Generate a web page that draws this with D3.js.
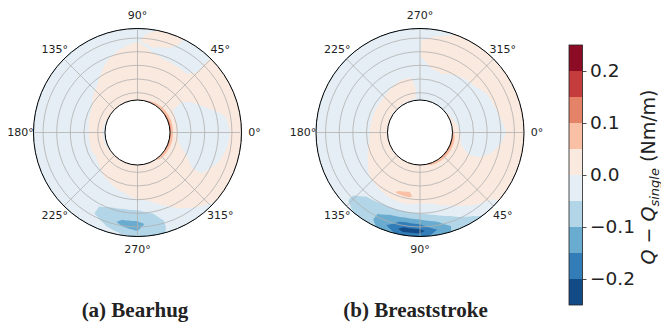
<!DOCTYPE html>
<html>
<head>
<meta charset="utf-8">
<script src="https://cdn.jsdelivr.net/npm/d3@7"></script>
<style>
  body { margin: 0; background: #fff; }
  svg { display: block; }
</style>
</head>
<body>
<svg id="chart" width="661" height="325"></svg>
<script>
// contour levels and the RdBu_r colours of the 10 bands
const levels = [-0.25, -0.2, -0.15, -0.1, -0.05, 0, 0.05, 0.1, 0.15, 0.2, 0.25];
const bandColors = ["#134b86", "#327cb7", "#6aacd0", "#b2d5e7", "#e4eef4",
                    "#fae9df", "#f9c0a5", "#e58368", "#c43c3c", "#8d0c25"];
const colorbarTicks = [-0.2, -0.1, 0, 0.1, 0.2];

const angleTicks = [0, 45, 90, 135, 180, 225, 270, 315];
const ringTicks = [1, 2, 3, 4, 5];
const radialExtent = [0.46, 5.7];

// sample positions of the field
const angleSamples = [0, 10, 20, 30, 40, 50, 60, 70, 80, 90, 100, 110, 120, 130, 140, 150, 160, 170,
                      180, 190, 200, 210, 220, 230, 240, 250, 260, 270, 280, 290, 300, 310, 320, 330, 340, 350];
const radialSamples = [0.46, 0.7, 1.2, 2.0, 2.8, 3.6, 4.2, 4.8, 5.3, 5.7];

// Q - Q_single, one row per angle sample (inner -> outer radius)
const bearhug = [
  [0.12, 0.045, -0.02, -0.03, -0.03, -0.03, -0.02, -0.002, 0.025, 0.025],
  [0.13, 0.045, -0.02, -0.03, -0.03, -0.03, -0.015, 0.005, 0.025, 0.025],
  [0.13, 0.045, -0.02, -0.03, -0.02, 0.005, 0.025, 0.025, 0.025, 0.025],
  [0.12, 0.045, -0.01, -0.02, 0.01, 0.025, 0.025, 0.025, 0.025, 0.025],
  [0.11, 0.04, 0.025, 0.025, 0.025, 0.025, 0.025, 0.025, 0.025, 0.025],
  [0.10, 0.035, 0.025, 0.025, 0.025, 0.003, -0.02, -0.02, -0.02, -0.02],
  [0.08, 0.03, 0.025, 0.025, 0.025, 0.005, -0.02, -0.02, -0.02, -0.015],
  [0.06, 0.03, 0.025, 0.025, 0.025, 0.008, -0.02, 0.005, 0.025, 0.025],
  [0.045, 0.03, 0.025, 0.025, 0.025, 0.015, -0.005, 0.01, 0.025, -0.005],
  [0.03, 0.03, 0.025, 0.025, 0.025, 0.025, 0.02, -0.002, -0.025, -0.025],
  [0.03, 0.03, 0.025, 0.025, 0.025, 0.02, 0.008, -0.02, -0.025, -0.025],
  [0.03, 0.03, 0.025, 0.025, 0.025, 0.012, -0.01, -0.025, -0.025, -0.025],
  [0.03, 0.03, 0.025, 0.025, 0.015, -0.01, -0.025, -0.025, -0.025, -0.025],
  [0.03, 0.03, 0.025, 0.02, -0.005, -0.025, -0.025, -0.025, -0.025, -0.025],
  [0.025, 0.025, 0.025, 0.012, -0.02, -0.025, -0.025, -0.025, -0.025, -0.025],
  [0.02, 0.025, 0.02, -0.002, -0.025, -0.025, -0.025, -0.025, -0.025, -0.025],
  [-0.01, 0.015, 0.025, -0.01, -0.025, -0.025, -0.025, -0.025, -0.025, -0.025],
  [-0.015, 0.01, 0.025, -0.015, -0.025, -0.025, -0.025, -0.025, -0.025, -0.025],
  [-0.02, 0.01, 0.025, -0.02, -0.025, -0.025, -0.025, -0.025, -0.025, -0.025],
  [-0.02, 0.01, 0.025, -0.02, -0.025, -0.025, -0.025, -0.025, -0.025, -0.025],
  [-0.015, 0.01, 0.025, -0.015, -0.025, -0.025, -0.025, -0.025, -0.025, -0.025],
  [-0.01, 0.015, 0.02, -0.02, -0.025, -0.025, -0.025, -0.025, -0.025, -0.025],
  [0.02, 0.025, 0.025, -0.01, -0.025, -0.025, -0.025, -0.03, -0.03, -0.03],
  [0.02, 0.025, 0.025, 0.002, -0.025, -0.025, -0.03, -0.035, -0.035, -0.03],
  [0.02, 0.025, 0.025, 0.01, -0.025, -0.03, -0.045, -0.045, -0.04, -0.035],
  [0.02, 0.025, 0.025, 0.02, -0.015, -0.035, -0.065, -0.07, -0.045, -0.035],
  [0.02, 0.025, 0.025, 0.025, -0.005, -0.04, -0.075, -0.115, -0.08, -0.035],
  [0.02, 0.025, 0.025, 0.025, 0.01, -0.04, -0.075, -0.115, -0.1, -0.07],
  [0.02, 0.025, 0.025, 0.025, 0.025, -0.03, -0.055, -0.08, -0.08, -0.07],
  [0.03, 0.025, 0.025, 0.025, 0.025, 0.01, -0.025, -0.035, -0.035, -0.035],
  [0.04, 0.025, 0.025, 0.025, 0.025, 0.025, 0.015, -0.015, -0.025, -0.025],
  [0.08, 0.035, 0.025, 0.025, 0.025, 0.025, 0.025, 0.015, -0.005, -0.02],
  [0.10, 0.04, 0.025, 0.025, 0.025, 0.025, 0.025, 0.025, 0.015, 0.005],
  [0.11, 0.04, 0.025, 0.02, -0.01, -0.01, 0.02, 0.025, 0.025, 0.025],
  [0.12, 0.045, 0.015, -0.02, -0.03, -0.03, -0.01, 0.02, 0.025, 0.025],
  [0.12, 0.045, -0.01, -0.03, -0.03, -0.03, -0.02, 0.003, 0.025, 0.025]
];

const breaststroke = [
  [0.07, 0.025, -0.02, -0.025, -0.025, -0.02, -0.01, 0.02, 0.025, 0.025],
  [0.11, 0.04, -0.01, -0.02, -0.02, -0.01, 0.01, 0.025, 0.025, 0.025],
  [0.12, 0.04, 0.005, -0.01, -0.005, 0.01, 0.025, 0.025, 0.025, 0.025],
  [0.12, 0.04, 0.02, 0.01, 0.015, 0.02, 0.025, 0.025, 0.025, 0.025],
  [0.12, 0.04, 0.025, 0.025, 0.025, 0.025, 0.025, 0.02, 0.01, 0.005],
  [0.11, 0.04, 0.025, 0.025, 0.025, 0.025, 0.02, 0.005, -0.03, -0.045],
  [0.10, 0.035, 0.025, 0.025, 0.025, 0.02, 0.005, -0.03, -0.055, -0.06],
  [0.08, 0.03, 0.025, 0.025, 0.025, 0.01, -0.03, -0.06, -0.09, -0.09],
  [0.05, 0.03, 0.025, 0.025, 0.02, -0.01, -0.05, -0.11, -0.15, -0.13],
  [0.03, 0.025, 0.025, 0.025, 0.03, -0.02, -0.065, -0.15, -0.22, -0.17],
  [0.03, 0.025, 0.025, 0.035, 0.06, -0.02, -0.07, -0.16, -0.22, -0.17],
  [0.03, 0.025, 0.025, 0.03, 0.055, -0.02, -0.07, -0.13, -0.15, -0.12],
  [0.03, 0.025, 0.025, 0.03, 0.035, -0.025, -0.06, -0.09, -0.09, -0.08],
  [0.03, 0.025, 0.025, 0.025, 0.02, -0.03, -0.05, -0.06, -0.06, -0.05],
  [0.03, 0.025, 0.025, 0.02, 0.005, -0.03, -0.04, -0.045, -0.045, -0.04],
  [0.025, 0.025, 0.025, 0.015, -0.01, -0.03, -0.035, -0.04, -0.04, -0.035],
  [0.02, 0.025, 0.02, 0.005, -0.02, -0.025, -0.03, -0.03, -0.03, -0.03],
  [0.01, 0.025, 0.02, -0.005, -0.025, -0.025, -0.025, -0.025, -0.025, -0.025],
  [-0.005, 0.02, 0.02, -0.01, -0.025, -0.025, -0.025, -0.025, -0.025, -0.025],
  [-0.005, 0.02, 0.02, -0.01, -0.025, -0.025, -0.025, -0.025, -0.025, -0.025],
  [-0.005, 0.02, 0.02, -0.01, -0.025, -0.025, -0.025, -0.025, -0.025, -0.025],
  [-0.005, 0.02, 0.02, -0.01, -0.025, -0.025, -0.025, -0.025, -0.025, -0.025],
  [-0.005, 0.02, 0.02, -0.01, -0.025, -0.025, -0.025, -0.025, -0.025, -0.025],
  [-0.005, 0.02, 0.02, -0.005, -0.025, -0.025, -0.025, -0.025, -0.025, -0.025],
  [-0.005, 0.02, 0.02, 0.0, -0.02, -0.025, -0.025, -0.025, -0.025, -0.025],
  [-0.01, 0.015, 0.02, 0.005, -0.02, -0.025, -0.025, -0.025, -0.025, -0.025],
  [-0.01, 0.01, 0.015, 0.005, -0.02, -0.025, -0.025, -0.025, -0.025, -0.025],
  [-0.02, -0.02, -0.02, -0.02, -0.003, -0.003, -0.003, -0.003, -0.005, -0.02],
  [-0.02, -0.02, -0.025, -0.015, -0.002, 0.04, 0.04, 0.035, -0.005, -0.02],
  [-0.02, -0.02, -0.025, -0.02, 0.005, 0.03, 0.03, 0.025, 0.015, 0.0],
  [-0.02, -0.02, -0.025, -0.025, -0.005, 0.02, 0.025, 0.025, 0.025, 0.015],
  [-0.01, -0.02, -0.025, -0.025, -0.015, 0.015, 0.025, 0.025, 0.025, 0.02],
  [0.0, -0.02, -0.025, -0.025, -0.02, 0.01, 0.025, 0.025, 0.025, 0.025],
  [0.02, -0.015, -0.025, -0.025, -0.025, -0.005, 0.02, 0.025, 0.025, 0.025],
  [0.03, 0.0, -0.025, -0.025, -0.025, -0.01, 0.015, 0.025, 0.025, 0.025],
  [0.04, 0.01, -0.02, -0.025, -0.025, -0.015, 0.005, 0.025, 0.025, 0.025]
];

const svg = d3.select("#chart");
const cy = 132.5;
const rScale = d3.scaleLinear().domain(radialExtent).range([32.5, 104]);
const fmt = d => d3.format(".1f")(d).replace("-", "\u2212");

function drawPanel(cx, field, dir, caption, captionX) {
  const g = svg.append("g").attr("transform", `translate(${cx},${cy})`);
  const nA = angleSamples.length, nR = radialSamples.length, w = nA + 1;

  // grid for d3.contours, with the first angle repeated at 360
  const values = new Array(w * nR);
  for (let j = 0; j < nR; j++)
    for (let i = 0; i < w; i++) values[j * w + i] = field[i % nA][j];

  const angleOf = d3.scaleLinear().domain(d3.range(w)).range(angleSamples.concat([360])).clamp(true);
  const radOf = d3.scaleLinear().domain(d3.range(nR)).range(radialSamples).clamp(true);
  const polar = (a, r) => {
    const t = dir * a * Math.PI / 180;
    return [r * Math.cos(t), -r * Math.sin(t)];
  };
  const project = (x, y) => polar(angleOf(x - 0.5), rScale(radOf(y - 0.5)));

  const contours = d3.contours().size([w, nR]).thresholds(levels)(values);
  contours.forEach((c, k) => {
    if (k >= bandColors.length) return;
    const d = c.coordinates.map(poly => poly.map(ring => {
      const pts = [];
      for (let m = 0; m < ring.length - 1; m++) {
        const [x0, y0] = ring[m], [x1, y1] = ring[m + 1];
        for (let t = 0; t < 6; t++)
          pts.push(project(x0 + (x1 - x0) * t / 6, y0 + (y1 - y0) * t / 6).map(v => v.toFixed(2)));
      }
      return "M" + pts.join("L") + "Z";
    }).join("")).join("");
    g.append("path").attr("d", d).attr("fill", bandColors[k]).attr("fill-rule", "evenodd");
  });

  // grid
  g.selectAll(".ring").data(ringTicks).enter().append("circle")
    .attr("r", d => rScale(d))
    .attr("fill", "none").attr("stroke", "#b0b0b0").attr("stroke-width", 0.8);
  g.selectAll(".spoke").data(angleTicks).enter().append("line")
    .attr("x1", d => polar(d, rScale.range()[0])[0]).attr("y1", d => polar(d, rScale.range()[0])[1])
    .attr("x2", d => polar(d, rScale.range()[1])[0]).attr("y2", d => polar(d, rScale.range()[1])[1])
    .attr("stroke", "#b0b0b0").attr("stroke-width", 0.8);

  // hole and spine
  g.append("circle").attr("r", rScale.range()[0]).attr("fill", "#fff").attr("stroke", "#000").attr("stroke-width", 1);
  g.append("circle").attr("r", rScale.range()[1]).attr("fill", "none").attr("stroke", "#000").attr("stroke-width", 1);

  // angle labels
  g.selectAll(".alabel").data(angleTicks).enter().append("text")
    .attr("x", d => polar(d, 117)[0]).attr("y", d => polar(d, 117)[1])
    .attr("text-anchor", "middle").attr("dominant-baseline", "central")
    .style("font-family", "DejaVu Sans").style("font-size", "11px").attr("fill", "#222")
    .text(d => d + "\u00b0");

  svg.append("text")
    .attr("x", captionX).attr("y", 317)
    .attr("text-anchor", "middle")
    .style("font-family", "Liberation Serif").style("font-weight", "bold").style("font-size", "21px")
    .attr("fill", "#222")
    .text(caption);
}

drawPanel(137.5, bearhug, 1, "(a) Bearhug", 135);
drawPanel(420, breaststroke, -1, "(b) Breaststroke", 415.5);

// colorbar
const cb = svg.append("g").attr("transform", "translate(569,0)");
const cbY = d3.scaleLinear().domain([levels[0], levels[levels.length - 1]]).range([305, 45]);
const cbW = 13.5;
cb.selectAll("rect").data(bandColors).enter().append("rect")
  .attr("x", 0).attr("width", cbW)
  .attr("y", (d, i) => cbY(levels[i + 1]))
  .attr("height", (d, i) => cbY(levels[i]) - cbY(levels[i + 1]))
  .attr("fill", d => d);
cb.append("rect").attr("x", 0).attr("y", 45).attr("width", cbW).attr("height", 260)
  .attr("fill", "none").attr("stroke", "#222").attr("stroke-width", 0.8);

const cbAxis = cb.append("g").attr("transform", `translate(${cbW},0)`)
  .call(d3.axisRight(cbY).tickValues(colorbarTicks).tickFormat(fmt).tickSize(4).tickPadding(3.5));
cbAxis.select(".domain").remove();
cbAxis.selectAll("line").attr("stroke", "#222").attr("stroke-width", 0.8);
cbAxis.selectAll("text").style("font-family", "DejaVu Sans").style("font-size", "18.5px").attr("fill", "#222");

const lab = svg.append("text")
  .attr("transform", "translate(655,177) rotate(-90)")
  .attr("text-anchor", "middle")
  .style("font-family", "DejaVu Sans").style("font-size", "19px").attr("fill", "#222");
lab.append("tspan").style("font-style", "italic").text("Q");
lab.append("tspan").text(" \u2212 ");
lab.append("tspan").style("font-style", "italic").text("Q");
lab.append("tspan").style("font-style", "italic").style("font-size", "13px").attr("dy", 4).text("single");
lab.append("tspan").attr("dy", -4).text(" (Nm/m)");
</script>
</body>
</html>
